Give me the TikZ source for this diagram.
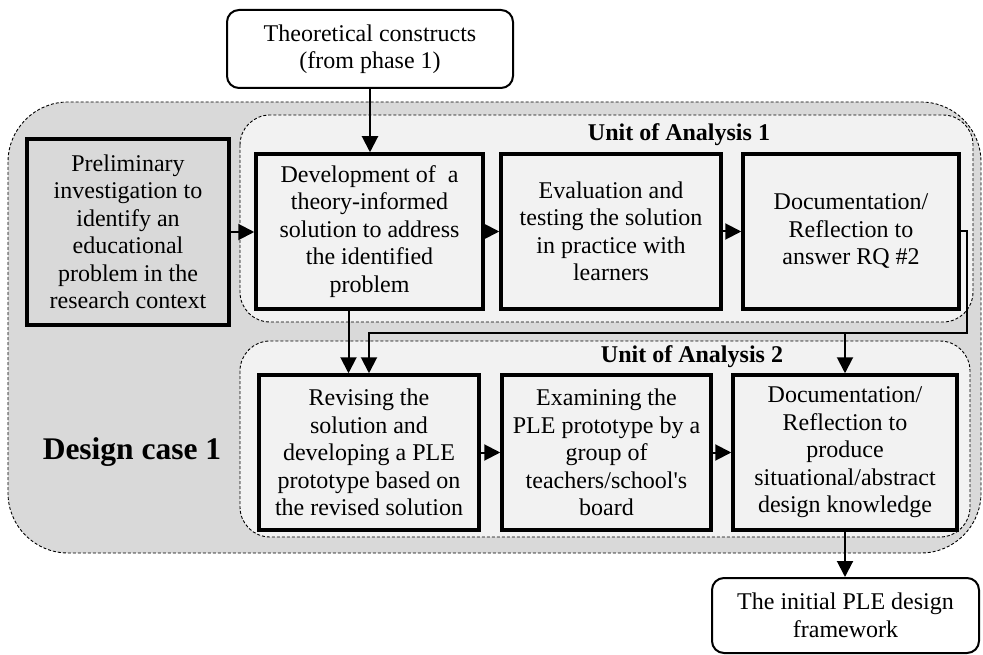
\documentclass[tikz,border=0pt]{standalone}
\usepackage{fontspec}
\setmainfont{Liberation Serif}[Ligatures=TeXOff]
\usetikzlibrary{arrows.meta,calc}
\definecolor{casegray}{HTML}{D9D9D9}
\definecolor{unitgray}{HTML}{F2F2F2}
\begin{document}
\begin{tikzpicture}[x=1pt,y=-1pt,
  txt/.style={font=\fontsize{24}{27.5}\selectfont, align=center, inner sep=0pt},
  stepbox/.style={txt, draw, line width=3.5pt, fill=unitgray, minimum height=155pt},
  endbox/.style={txt, draw, line width=2pt, rounded corners=12pt, fill=white},
  container/.style={draw, dashed, dash pattern=on 3pt off 2pt, line width=0.9pt},
  arr/.style={line width=2pt, -{Triangle[length=16pt,width=16pt]}},
  unitlabel/.style={font=\fontsize{24}{27.5}\selectfont\bfseries, inner sep=0pt}
]
\useasboundingbox (0,0) rectangle (983,655);

% design case container and its two units of analysis
\draw[container, fill=casegray, rounded corners=60pt] (8,102) rectangle (981,553);
\draw[container, fill=unitgray, rounded corners=30pt] (240,115) rectangle (973,322);
\draw[container, fill=unitgray, rounded corners=30pt] (240,341) rectangle (970,537);

\node[unitlabel] (u1) at (679,135) {Unit of Analysis 1};
\node[unitlabel] (u2) at (692,357) {Unit of Analysis 2};
\node[font=\fontsize{31.5}{36}\selectfont\bfseries, inner sep=0pt] (dc) at (132,452) {Design case 1};

% input and output
\node[endbox, minimum width=286pt, minimum height=78pt] (theory) at (370,49)
  {Theoretical constructs\\(from phase 1)};
\node[endbox, minimum width=267pt, minimum height=75pt] (final) at (845.5,615.5)
  {The initial PLE design\\framework};

% steps
\node[stepbox, fill=casegray, minimum width=202pt, minimum height=186pt] (prelim) at (128,232)
  {Preliminary\\investigation to\\identify an\\educational\\problem in the\\research context};
\node[stepbox, minimum width=227pt] (dev) at (369.5,231.5)
  {Development of\ \ a\\theory-informed\\solution to address\\the identified\\problem};
\node[stepbox, minimum width=220pt] (eval) at (611,231.5)
  {Evaluation and\\testing the solution\\in practice with\\learners};
\node[stepbox, minimum width=216pt] (doc1) at (851,231.5)
  {Documentation/\\Reflection to\\answer RQ \#2};
\node[stepbox, minimum width=220pt] (rev) at (369,452.5)
  {Revising the\\solution and\\developing a PLE\\prototype based on\\the revised solution};
\node[stepbox, minimum width=209pt] (exam) at (606.5,452.5)
  {Examining the\\PLE prototype by a\\group of\\teachers/school's\\board};
\node[stepbox, minimum width=224pt] (doc2) at (845,452.5)
  {Documentation/\\Reflection to\\produce\\situational/abstract\\design knowledge};

% connectors
\coordinate (fb) at (967,333);
\draw[arr] (theory.south) -- (theory.south |- dev.north);
\draw[arr] (prelim.east) -- (prelim.east -| dev.west);
\draw[arr] (dev.east) -- (eval.west);
\draw[arr] (eval.east) -- (doc1.west);
\draw[arr] (doc1.east) -| (fb) -| (rev.north);
\draw[arr] ([xshift=-21pt]dev.south) -- ([xshift=-21pt]dev.south |- rev.north);
\draw[arr] (doc2.north |- fb) -- (doc2.north);
\draw[arr] (rev.east) -- (exam.west);
\draw[arr] (exam.east) -- (doc2.west);
\draw[arr] (doc2.south) -- (doc2.south |- final.north);
\end{tikzpicture}
\end{document}
